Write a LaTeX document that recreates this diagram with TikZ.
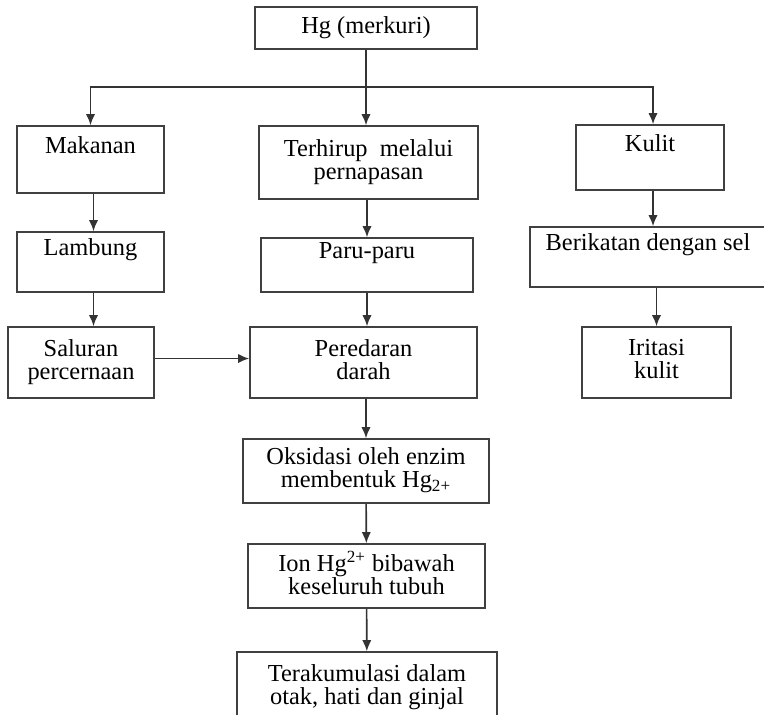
\documentclass[tikz,border=0pt]{standalone}
\usepackage{fontspec}
\setmainfont{Liberation Serif}
\usepackage{tikz}
\usetikzlibrary{shapes,arrows,arrows.meta,positioning}
\def\px{0.5pt}

\begin{document}
\begin{tikzpicture}[x=\px,y=-\px,->,>={Latex[length=5.5pt,width=4.6pt]},draw=black!80,line width=0.8pt]
    \tikzstyle{box}=[rectangle,draw=black!75,align=center,inner sep=0pt,
        font=\fontsize{12.2pt}{11.5pt}\selectfont,
        execute at begin node=\strut,execute at end node=\strut]
    \useasboundingbox (0,0) rectangle (764,714);

    % Draw the top node
    \node[box,minimum width=222*\px,minimum height=42*\px] (hg) at (366,28) {Hg (merkuri)};
    \coordinate (split) at (366,87);

    % Draw the three ways in
    \node[box,minimum width=147*\px,minimum height=67*\px] (makanan) at (90.5,159.5) {Makanan\\};
    \node[box,minimum width=219*\px,minimum height=73*\px] (terhirup) at (368.5,162.5) {Terhirup\ \ melalui\\pernapasan};
    \node[box,minimum width=148*\px,minimum height=65*\px] (kulit) at (650,157.5) {Kulit\\};

    % Draw the second row
    \node[box,minimum width=147*\px,minimum height=60*\px] (lambung) at (90.5,262) {Lambung\\};
    \node[box,minimum width=212*\px,minimum height=54*\px] (paru) at (367,265) {Paru-paru\\};
    \node[box,minimum width=236*\px,minimum height=60*\px] (berikatan) at (648,257) {Berikatan dengan sel\\};

    % Draw the third row
    \node[box,minimum width=146*\px,minimum height=71*\px] (saluran) at (81,362.5) {Saluran\\percernaan};
    \node[box,minimum width=227*\px,minimum height=71*\px] (peredaran) at (363.5,362.5) {Peredaran\\darah};
    \node[box,minimum width=149*\px,minimum height=71*\px] (iritasi) at (656.5,362.5) {Iritasi\\kulit};

    % Draw the chain below the blood
    \node[box,minimum width=246*\px,minimum height=64*\px] (oksidasi) at (366,471) {Oksidasi oleh enzim\\membentuk Hg\textsubscript{2+}};
    \node[box,minimum width=237*\px,minimum height=64*\px] (ion) at (366.5,576) {Ion Hg\textsuperscript{2+} bibawah\\keseluruh tubuh};
    \node[box,minimum width=260*\px,minimum height=72*\px] (akumulasi) at (367,688) {Terakumulasi dalam\\otak, hati dan ginjal};

    % Split the top node into the three ways
    \draw[-] (hg) -- (split);
    \draw (split) -| (makanan);
    \draw (split) -- (split |- terhirup.north);
    \draw (split) -| ([xshift=3*\px]kulit.north);

    % Connect every column downwards
    \draw ([xshift=3*\px]makanan.south) -- ([xshift=3*\px]makanan.south |- lambung.north);
    \draw ([xshift=3*\px]lambung.south) -- ([xshift=3*\px]lambung.south |- saluran.north);
    \draw ([xshift=-1.5*\px]terhirup.south) -- ([xshift=-1.5*\px]terhirup.south |- paru.north);
    \draw (paru.south) -- (paru.south |- peredaran.north);
    \draw ([xshift=3*\px]kulit.south) -- ([xshift=3*\px]kulit.south |- berikatan.north);
    \draw (iritasi.north |- berikatan.south) -- (iritasi.north);
    \draw ([yshift=4*\px]saluran.east) -- ([yshift=4*\px]peredaran.west);
    \draw (oksidasi.north |- peredaran.south) -- (oksidasi.north);
    \draw (oksidasi) -- (ion);
    \draw (ion) -- (akumulasi);

\end{tikzpicture}
\end{document}
